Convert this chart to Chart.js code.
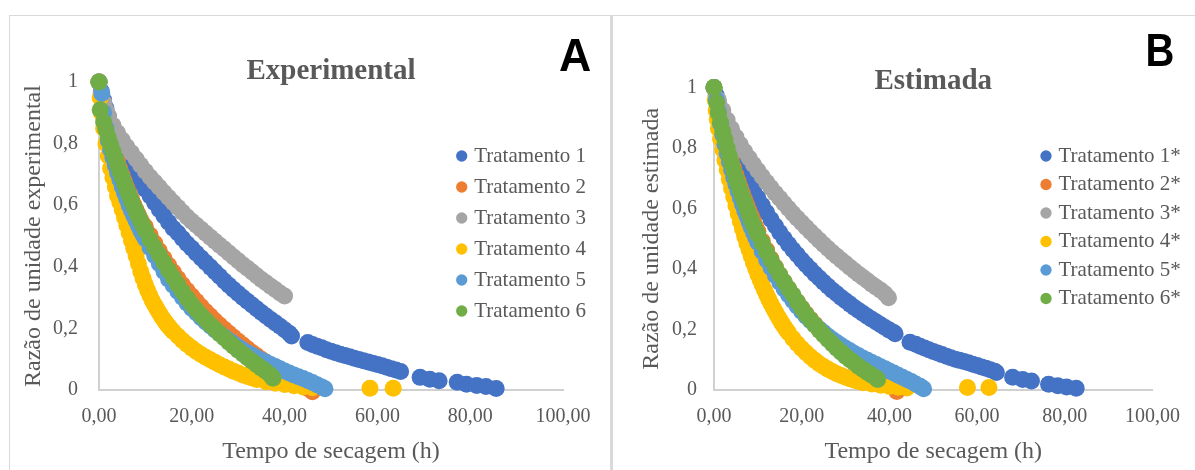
<!DOCTYPE html>
<html>
<head>
<meta charset="utf-8">
<script src="https://cdn.jsdelivr.net/npm/chart.js@4.4.0/dist/chart.umd.min.js"></script>
<style>
  body { margin: 0; background: #fff; width: 1195px; height: 470px; overflow: hidden; position: relative; }
  .linha { position: absolute; background: #d9d9d9; }
  canvas { position: absolute; }
</style>
</head>
<body>
<div class="linha" style="left:9px;top:15px;width:1186px;height:1px"></div>
<div class="linha" style="left:9px;top:15px;width:1px;height:455px"></div>
<div class="linha" style="left:610px;top:15px;width:3px;height:455px"></div>
<canvas id="graficoA" width="600" height="454" style="left:10px;top:16px"></canvas>
<canvas id="graficoB" width="581" height="454" style="left:614px;top:16px"></canvas>
<script>
// [tempo (h), razão de umidade]
const trat1A = [[0,1],[0.5,0.97],[1,0.942],[1.5,0.915],[2,0.89],[3,0.85],[4,0.812],[5,0.778],[6,0.746],[7,0.72],[8,0.697],[9,0.674],[10,0.652],[11,0.63],[12,0.608],[13,0.586],[14,0.565],[15,0.545],[16,0.525],[17,0.51],[18,0.492],[19,0.475],[20,0.46],[21,0.444],[22,0.429],[23,0.414],[24,0.399],[25,0.384],[26,0.369],[27,0.354],[28,0.34],[29,0.326],[30,0.313],[31,0.3],[32,0.288],[33,0.276],[34,0.264],[35,0.252],[36,0.24],[37,0.229],[38,0.218],[39,0.207],[40,0.196],[41,0.184],[41.5,0.175],[45,0.154],[46,0.148],[47,0.142],[48,0.137],[49,0.131],[50,0.126],[51,0.121],[52,0.116],[53,0.112],[54,0.108],[55,0.103],[56,0.099],[57,0.095],[58,0.091],[59,0.087],[60,0.083],[61,0.079],[62,0.074],[63,0.069],[64,0.065],[65,0.06],[69.2,0.041],[71.3,0.035],[73.3,0.03],[77.2,0.025],[79.2,0.019],[81.4,0.015],[83.4,0.011],[85.6,0.005]];
const trat2A = [[0,1],[0.5,0.95],[1,0.905],[1.5,0.87],[2,0.84],[2.5,0.812],[3,0.787],[3.5,0.763],[4,0.74],[4.5,0.718],[5,0.697],[5.5,0.677],[6,0.657],[6.5,0.638],[7,0.62],[7.5,0.602],[8,0.585],[8.5,0.569],[9,0.553],[9.5,0.538],[10,0.53],[11,0.503],[12,0.477],[13,0.452],[14,0.428],[15,0.405],[16,0.383],[17,0.362],[18,0.342],[19,0.323],[20,0.305],[21,0.288],[22,0.271],[23,0.255],[24,0.24],[25,0.225],[26,0.211],[27,0.197],[28,0.184],[29,0.171],[30,0.158],[31,0.146],[32,0.134],[33,0.122],[34,0.111],[35,0.1],[36,0.089],[37,0.079],[38,0.069],[39,0.059],[40,0.05],[41,0.041],[42,0.032],[43,0.023],[44,0.014],[45,0.005],[46,-0.006]];
const trat3A = [[0,1],[0.5,0.965],[1,0.935],[1.5,0.91],[2,0.89],[3,0.86],[4,0.835],[5,0.812],[6,0.79],[7,0.77],[8,0.75],[9,0.73],[10,0.71],[11,0.692],[12,0.675],[13,0.658],[14,0.641],[15,0.625],[16,0.609],[17,0.593],[18,0.577],[19,0.562],[20,0.548],[21,0.535],[22,0.522],[23,0.509],[24,0.496],[25,0.483],[26,0.47],[27,0.458],[28,0.445],[29,0.432],[30,0.42],[31,0.407],[32,0.395],[33,0.383],[34,0.371],[35,0.359],[36,0.348],[37,0.337],[38,0.326],[39,0.315],[40,0.305]];
const trat4A = [[0,1],[0.25,0.95],[0.5,0.9],[1,0.85],[1.5,0.8],[2,0.76],[2.5,0.72],[3,0.69],[3.5,0.66],[4,0.63],[4.5,0.61],[5,0.585],[5.5,0.56],[6,0.535],[6.5,0.51],[7,0.485],[7.5,0.46],[8,0.435],[8.5,0.41],[9,0.385],[9.5,0.363],[10,0.342],[10.5,0.323],[11,0.306],[11.5,0.29],[12,0.276],[12.5,0.263],[13,0.25],[13.5,0.238],[14,0.227],[14.5,0.217],[15,0.207],[15.5,0.198],[16,0.19],[17,0.175],[18,0.161],[19,0.148],[20,0.136],[21,0.125],[22,0.115],[23,0.106],[24,0.098],[25,0.09],[26,0.082],[27,0.075],[28,0.068],[29,0.061],[30,0.055],[31,0.049],[32,0.044],[33,0.039],[34,0.034],[36,0.027],[38,0.022],[40,0.018],[42,0.014],[44,0.01],[46,0.007],[58.4,0.006],[63.4,0.006]];
const trat5A = [[0,1],[0.6,0.963],[1,0.9],[1.5,0.85],[2,0.81],[2.5,0.78],[3,0.755],[3.5,0.73],[4,0.705],[4.5,0.683],[5,0.66],[5.5,0.64],[6,0.62],[6.5,0.6],[7,0.583],[7.5,0.566],[8,0.55],[8.5,0.533],[9,0.518],[9.5,0.503],[10,0.49],[11,0.462],[12,0.436],[13,0.41],[14,0.385],[15,0.36],[16,0.34],[17,0.32],[18,0.3],[19,0.282],[20,0.265],[21,0.25],[22,0.235],[23,0.221],[24,0.208],[25,0.195],[26,0.183],[27,0.172],[28,0.161],[29,0.15],[30,0.14],[31,0.13],[32,0.121],[33,0.113],[34,0.105],[35,0.097],[36,0.09],[37,0.083],[38,0.076],[39,0.069],[40,0.062],[41,0.055],[42,0.049],[43,0.043],[44,0.037],[45,0.031],[46,0.024],[47,0.017],[48,0.01],[48.7,0.004]];
const trat6A = [[0,1],[0.25,0.91],[1,0.87],[1.5,0.845],[2,0.82],[2.5,0.797],[3,0.775],[3.5,0.753],[4,0.731],[4.5,0.71],[5,0.69],[5.5,0.67],[6,0.65],[6.5,0.632],[7,0.614],[7.5,0.597],[8,0.58],[8.5,0.564],[9,0.548],[9.5,0.533],[10,0.518],[11,0.489],[12,0.463],[13,0.438],[14,0.413],[15,0.389],[16,0.365],[17,0.342],[18,0.319],[19,0.298],[20,0.278],[21,0.26],[22,0.243],[23,0.227],[24,0.212],[25,0.198],[26,0.183],[27,0.169],[28,0.155],[29,0.142],[30,0.129],[31,0.117],[32,0.105],[33,0.093],[34,0.082],[35,0.071],[36,0.06],[37,0.048],[37.5,0.038]];

const trat1B = [[0,1],[0.5,0.975],[1,0.95],[1.5,0.925],[2,0.9],[3,0.86],[4,0.82],[5,0.785],[6,0.75],[7,0.72],[8,0.69],[9,0.662],[10,0.636],[11,0.611],[12,0.587],[13,0.564],[14,0.542],[15,0.521],[16,0.501],[17,0.482],[18,0.464],[19,0.447],[20,0.43],[21,0.414],[22,0.399],[23,0.384],[24,0.37],[25,0.356],[26,0.343],[27,0.33],[28,0.318],[29,0.306],[30,0.295],[31,0.284],[32,0.273],[33,0.263],[34,0.253],[35,0.243],[36,0.234],[37,0.225],[38,0.216],[39,0.207],[40,0.198],[41,0.19],[41.3,0.186],[44.7,0.158],[46,0.151],[47,0.145],[48,0.139],[49,0.133],[50,0.127],[51,0.122],[52,0.117],[53,0.112],[54,0.107],[55,0.102],[56,0.098],[57,0.094],[58,0.09],[59,0.085],[60,0.081],[61,0.076],[62,0.072],[63,0.067],[64,0.062],[64.4,0.058],[68.1,0.042],[70.4,0.035],[72.4,0.03],[76.3,0.019],[78.4,0.014],[80.4,0.01],[82.6,0.006]];
const trat2B = [[0,1],[0.5,0.96],[1,0.925],[1.5,0.892],[2,0.862],[2.5,0.834],[3,0.807],[3.5,0.782],[4,0.758],[4.5,0.735],[5,0.712],[5.5,0.69],[6,0.67],[6.5,0.65],[7,0.63],[7.5,0.611],[8,0.593],[8.5,0.575],[9,0.558],[9.5,0.541],[10,0.525],[11,0.493],[12,0.463],[13,0.434],[14,0.407],[15,0.381],[16,0.357],[17,0.334],[18,0.312],[19,0.291],[20,0.271],[21,0.252],[22,0.234],[23,0.217],[24,0.201],[25,0.186],[26,0.171],[27,0.157],[28,0.144],[29,0.131],[30,0.119],[31,0.107],[32,0.096],[33,0.085],[34,0.075],[35,0.065],[36,0.055],[37,0.046],[38,0.037],[39,0.028],[40,0.019],[41,0.01],[41.7,-0.005]];
const trat3B = [[0,1],[1,0.96],[2,0.925],[3,0.893],[4,0.864],[5,0.837],[6,0.812],[7,0.789],[8,0.767],[9,0.746],[10,0.726],[11,0.706],[12,0.687],[13,0.669],[14,0.651],[15,0.634],[16,0.617],[17,0.6],[18,0.584],[19,0.568],[20,0.553],[21,0.538],[22,0.523],[23,0.509],[24,0.495],[25,0.481],[26,0.468],[27,0.455],[28,0.442],[29,0.43],[30,0.418],[31,0.406],[32,0.394],[33,0.383],[34,0.372],[35,0.361],[36,0.35],[37,0.34],[38,0.33],[39,0.318],[39.8,0.305]];
const trat4B = [[0,1],[0.25,0.96],[0.5,0.925],[0.75,0.895],[1,0.865],[1.5,0.83],[2,0.795],[2.5,0.76],[3,0.728],[3.5,0.697],[4,0.667],[4.5,0.638],[5,0.61],[5.5,0.583],[6,0.557],[6.5,0.532],[7,0.508],[7.5,0.485],[8,0.463],[8.5,0.442],[9,0.421],[9.5,0.402],[10,0.383],[10.5,0.365],[11,0.348],[11.5,0.331],[12,0.315],[12.5,0.3],[13,0.285],[13.5,0.271],[14,0.258],[14.5,0.245],[15,0.233],[15.5,0.221],[16,0.21],[16.5,0.199],[17,0.189],[18,0.17],[19,0.153],[20,0.137],[21,0.123],[22,0.11],[23,0.098],[24,0.087],[25,0.078],[26,0.069],[27,0.061],[28,0.054],[29,0.048],[30,0.042],[31,0.037],[32,0.032],[33,0.028],[34,0.024],[36,0.02],[38,0.016],[40,0.012],[42,0.009],[44,0.007],[57.8,0.008],[62.7,0.008]];
const trat5B = [[0,1],[0.5,0.96],[1,0.92],[1.5,0.88],[2,0.845],[2.5,0.812],[3,0.782],[3.5,0.755],[4,0.728],[4.5,0.703],[5,0.68],[5.5,0.657],[6,0.635],[6.5,0.614],[7,0.594],[7.5,0.575],[8,0.556],[8.5,0.538],[9,0.521],[9.5,0.504],[10,0.488],[11,0.458],[12,0.43],[13,0.404],[14,0.379],[15,0.356],[16,0.334],[17,0.314],[18,0.295],[19,0.277],[20,0.26],[21,0.244],[22,0.229],[23,0.215],[24,0.202],[25,0.19],[26,0.178],[27,0.167],[28,0.157],[29,0.147],[30,0.138],[31,0.13],[32,0.121],[33,0.113],[34,0.105],[35,0.098],[36,0.091],[37,0.084],[38,0.077],[39,0.07],[40,0.063],[41,0.056],[42,0.049],[43,0.042],[44,0.035],[45,0.028],[46,0.02],[47,0.012],[47.8,0.004]];
const trat6B = [[0,1],[0.6,0.95],[1,0.915],[1.5,0.885],[2,0.855],[2.5,0.828],[3,0.8],[3.5,0.775],[4,0.75],[4.5,0.725],[5,0.7],[5.5,0.68],[6,0.66],[6.5,0.64],[7,0.62],[7.5,0.6],[8,0.58],[8.5,0.563],[9,0.546],[9.5,0.53],[10,0.514],[11,0.485],[12,0.457],[13,0.43],[14,0.405],[15,0.381],[16,0.358],[17,0.336],[18,0.315],[19,0.292],[20,0.27],[21,0.25],[22,0.232],[23,0.215],[24,0.198],[25,0.182],[26,0.167],[27,0.152],[28,0.138],[29,0.125],[30,0.112],[31,0.1],[32,0.089],[33,0.078],[34,0.068],[35,0.058],[36,0.049],[37,0.04],[37.3,0.035]];

const nomesA = ["Tratamento 1", "Tratamento 2", "Tratamento 3", "Tratamento 4", "Tratamento 5", "Tratamento 6"];
const nomesB = ["Tratamento 1*", "Tratamento 2*", "Tratamento 3*", "Tratamento 4*", "Tratamento 5*", "Tratamento 6*"];
const ticksX = [0, 20, 40, 60, 80, 100];
const ticksY = [0, 0.2, 0.4, 0.6, 0.8, 1];

const cores = ["#4472C4", "#ED7D31", "#A5A5A5", "#FFC000", "#5B9BD5", "#70AD47"];
const fonte = "'Liberation Serif', 'Times New Roman', serif";
const cinza = "#595959";

function montarGrafico(id, cfg) {
  return new Chart(document.getElementById(id), {
    type: "scatter",
    data: {
      datasets: cfg.series.map((s, i) => ({
        label: cfg.nomes[i],
        data: s.map((p) => ({ x: p[0], y: p[1] })),
        backgroundColor: cores[i],
        borderWidth: 0,
        pointRadius: 8.5,
        pointHoverRadius: 8.5,
        order: cfg.series.length - i, // série 6 por cima, como no Excel
        clip: false,
      })),
    },
    options: {
      responsive: false,
      animation: false,
      events: [],
      layout: { padding: { left: 0, right: cfg.dir, top: cfg.topo, bottom: 0 } },
      scales: {
        x: {
          type: "linear",
          min: ticksX[0],
          max: ticksX[ticksX.length - 1],
          afterBuildTicks: (s) => { s.ticks = ticksX.map((v) => ({ value: v })); },
          grid: { display: false, drawTicks: false },
          border: { display: true, color: "#d0d0d0", width: 2 },
          ticks: {
            padding: 15,
            color: cinza,
            font: { family: fonte, size: 20 },
            callback: (v) => v.toFixed(2).replace(".", ","),
          },
          title: {
            display: true,
            text: "Tempo de secagem (h)",
            color: cinza,
            font: { family: fonte, size: 24 },
            padding: { top: 0, bottom: 4 },
          },
          afterFit: (s) => { s.height = 80; },
        },
        y: {
          min: 0,
          max: 1,
          afterBuildTicks: (s) => { s.ticks = ticksY.map((v) => ({ value: v })); },
          grid: { display: false, drawTicks: false },
          border: { display: true, color: "#d0d0d0", width: 2 },
          ticks: {
            padding: cfg.padY,
            color: cinza,
            font: { family: fonte, size: 20 },
            callback: (v) => (v === 0 || v === 1 ? String(v) : v.toFixed(1).replace(".", ",")),
          },
          title: {
            display: true,
            text: cfg.tituloY,
            color: cinza,
            font: { family: fonte, size: 24 },
            padding: { top: cfg.padTituloY, bottom: 0 },
          },
          afterFit: (s) => { s.width = cfg.larguraY; },
        },
      },
      plugins: {
        title: {
          display: true,
          text: cfg.titulo,
          fullSize: false,
          color: cinza,
          font: { family: fonte, size: 29, weight: "bold", lineHeight: cfg.alturaTitulo },
          padding: 0,
        },
        legend: {
          position: "chartArea",
          align: "start",
          labels: {
            usePointStyle: true,
            pointStyle: "circle",
            boxWidth: 4,
            boxHeight: 8,
            padding: cfg.padLegenda,
            color: cinza,
            font: { family: fonte, size: 21 },
            sort: (a, b) => a.datasetIndex - b.datasetIndex,
          },
        },
        tooltip: { enabled: false },
      },
    },
    plugins: [
      {
        id: "legendaEletra",
        afterLayout(chart) {
          // legenda solta dentro da área do gráfico
          const lg = chart.legend;
          lg.left = cfg.legX;
          lg.top = cfg.legY;
          lg.right = cfg.legX + 170;
          lg.bottom = cfg.legY + 260;
        },
        afterDraw(chart) {
          const ctx = chart.ctx;
          ctx.save();
          ctx.font = "bold 47px 'Liberation Sans', Arial, sans-serif";
          ctx.fillStyle = "#000";
          ctx.textAlign = "center";
          ctx.textBaseline = "middle";
          ctx.translate(cfg.letraX, cfg.letraY);
          ctx.scale(cfg.letraEsc, 1);
          ctx.fillText(cfg.letra, 0, 0);
          ctx.restore();
        },
      },
    ],
  });
}

montarGrafico("graficoA", {
  series: [trat1A, trat2A, trat3A, trat4A, trat5A, trat6A],
  nomes: nomesA,
  titulo: "Experimental",
  tituloY: "Razão de unidade experimental",
  topo: 44,
  alturaTitulo: 0.76,
  dir: 47,
  larguraY: 89,
  padY: 21,
  padTituloY: 9.6,
  padLegenda: 10,
  legX: 439.7,
  legY: 119.5,
  letra: "A",
  letraX: 565,
  letraY: 42,
  letraEsc: 0.95,
});

montarGrafico("graficoB", {
  series: [trat1B, trat2B, trat3B, trat4B, trat5B, trat6B],
  nomes: nomesB,
  titulo: "Estimada",
  tituloY: "Razão de unidade estimada",
  topo: 60,
  alturaTitulo: 0.4,
  dir: 31,
  larguraY: 100,
  padY: 17,
  padTituloY: 23.6,
  padLegenda: 7.5,
  legX: 422.5,
  legY: 122,
  letra: "B",
  letraX: 546,
  letraY: 37,
  letraEsc: 0.85,
});
</script>
</body>
</html>
